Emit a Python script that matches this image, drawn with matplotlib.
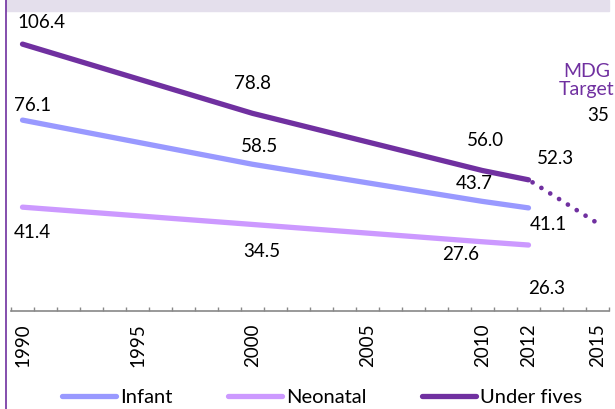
import matplotlib.pyplot as plt
from matplotlib.patches import Rectangle
from matplotlib.lines import Line2D

plt.rcParams['font.family'] = ['Lato', 'DejaVu Sans']

# category axis: one slot per year
years = list(range(1990, 2016))
shown_years = [1990, 1995, 2000, 2005, 2010, 2012, 2015]

# known data points
point_years = [1990, 2000, 2010, 2012]
infant = [76.1, 58.5, 43.7, 41.1]
neonatal = [41.4, 34.5, 27.6, 26.3]
under_fives = [106.4, 78.8, 56.0, 52.3]
target_years = [2012, 2015]
target_values = [52.3, 35]

# label offsets in pixels (dx, dy), per point
infant_offsets = [(10, 15), (7, 18), (-8, 18), (20, -17)]
neonatal_offsets = [(10, -25), (9, -27), (-22, -13), (18, -43)]
under_offsets = [(19, 22), (0, 30), (3, 30), (27, 21)]

c_infant = '#9999FF'
c_neo = '#CC99FF'
c_under = '#7030A0'
fs = 13.5


def xpos(y):
    return years.index(y)


fig = plt.figure(figsize=(6.15, 4.09), dpi=100)
ax = fig.add_axes([11 / 615, 98 / 409, 598 / 615, 301 / 409])

# header band + left border
fig.patches.append(Rectangle((6 / 615, 398 / 409), 603 / 615, 11 / 409,
                             transform=fig.transFigure, color='#E4DFEC', zorder=0))
fig.lines.append(Line2D([5.5 / 615, 5.5 / 615], [0, 1], transform=fig.transFigure,
                        color=c_under, lw=1.2))

xs = [xpos(y) for y in point_years]
ax.plot([xpos(y) for y in target_years], target_values, color=c_under, lw=3.4,
        linestyle=(1.2, (0.01, 2.2)), dash_capstyle='round', solid_capstyle='round')
for vals, col, offs in [(infant, c_infant, infant_offsets),
                        (neonatal, c_neo, neonatal_offsets),
                        (under_fives, c_under, under_offsets)]:
    ax.plot(xs, vals, color=col, lw=3.8, solid_capstyle='round', solid_joinstyle='round')
    for x, v, (dx, dy) in zip(xs, vals, offs):
        ax.annotate(f'{v:.1f}', (x, v), xytext=(dx, dy), textcoords='offset pixels',
                    ha='center', va='center', fontsize=fs, color='black')

ax.annotate('MDG\nTarget', (xpos(2015), 35), xytext=(-11, 143), textcoords='offset pixels',
            ha='center', va='center', fontsize=fs + 0.5, color=c_under, linespacing=1.1)
ax.annotate('35', (xpos(2015), 35), xytext=(1, 108), textcoords='offset pixels',
            ha='center', va='center', fontsize=fs, color='black')

ax.set_xlim(-0.5, len(years) - 0.5)
ax.set_ylim(0, 120)
for s in ['top', 'right', 'left']:
    ax.spines[s].set_visible(False)
ax.spines['bottom'].set_color('#888888')
ax.spines['bottom'].set_linewidth(1.2)
ax.set_yticks([])
ax.set_xticks([xpos(y) for y in shown_years])
ax.set_xticklabels([str(y) for y in shown_years], rotation=90, fontsize=fs)
ax.set_xticks([i - 0.5 for i in range(len(years) + 1)], minor=True)
ax.tick_params(axis='x', which='major', length=0, pad=9)
ax.tick_params(axis='x', which='minor', direction='in', length=3, color='#888888', width=1)
ax.patch.set_alpha(0)

handles = [Line2D([], [], color=c, lw=3.8, solid_capstyle='round') for c in (c_infant, c_neo, c_under)]
fig.legend(handles, ['Infant', 'Neonatal', 'Under fives'], loc='center',
           bbox_to_anchor=(322 / 615, 12 / 409), ncol=3, frameon=False, fontsize=14.5,
           handlelength=2.7, handletextpad=0.2, columnspacing=2.75, borderaxespad=0)

fig.savefig('out.png', dpi=100)
